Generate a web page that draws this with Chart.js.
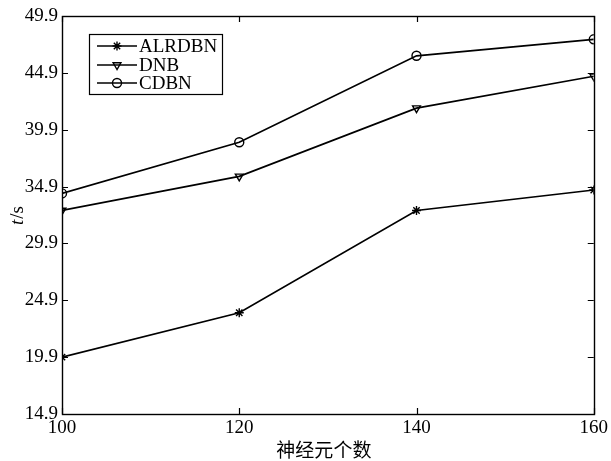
<!DOCTYPE html>
<html>
<head>
<meta charset="utf-8">
<script src="https://cdn.jsdelivr.net/npm/chart.js@4/dist/chart.umd.min.js"></script>
<style>
  html, body { margin: 0; padding: 0; background: #fff; }
  #wrap { width: 611px; height: 461px; position: relative; }
</style>
</head>
<body>
<div id="wrap"><canvas id="c" width="611" height="461"></canvas></div>
<script>
// Neuron counts on the x axis
const neurons = [100, 120, 140, 160];
// Training time (s) per method
const alrdbn = [19.9, 23.8, 32.8, 34.6];
const dnb    = [32.8, 35.8, 41.8, 44.6];
const cdbn   = [34.3, 38.8, 46.4, 47.85];
// Axis tick labels
const xTicks = [100, 120, 140, 160];
const yTicks = [14.9, 19.9, 24.9, 29.9, 34.9, 39.9, 44.9, 49.9];

const seriesNames = ['ALRDBN', 'DNB', 'CDBN'];
const xTitle = '神经元个数';

const SERIF = '"Liberation Serif", "Times New Roman", serif';
const LINE_W = 1.7;

function toPoints(vals) {
  return neurons.map((x, i) => ({ x: x, y: vals[i] }));
}

function ds(label, vals, style, rot) {
  return {
    label: label,
    data: toPoints(vals),
    borderColor: '#000',
    borderWidth: LINE_W,
    pointStyle: style,
    pointRotation: rot,
    pointRadius: 4.5,
    pointBorderWidth: 1.4,
    pointBorderColor: '#000',
    pointBackgroundColor: 'rgba(0,0,0,0)',
    tension: 0,
    fill: false
  };
}

// Box frame, inward ticks on all sides, axis titles and legend
const framePlugin = {
  id: 'frame',
  afterDraw(chart) {
    const ctx = chart.ctx;
    const a = chart.chartArea;
    const xs = chart.scales.x, ys = chart.scales.y;
    const tl = 6;
    ctx.save();
    ctx.strokeStyle = '#000';
    ctx.lineWidth = 1.4;
    ctx.strokeRect(Math.round(a.left) + 0.5, Math.round(a.top) + 0.5,
                   Math.round(a.right - a.left), Math.round(a.bottom - a.top));
    ctx.lineWidth = 1.2;
    ctx.beginPath();
    xTicks.forEach(v => {
      const px = Math.round(xs.getPixelForValue(v)) + 0.5;
      ctx.moveTo(px, a.bottom); ctx.lineTo(px, a.bottom - tl);
      ctx.moveTo(px, a.top); ctx.lineTo(px, a.top + tl);
    });
    yTicks.forEach(v => {
      const py = Math.round(ys.getPixelForValue(v)) + 0.5;
      ctx.moveTo(a.left, py); ctx.lineTo(a.left + tl, py);
      ctx.moveTo(a.right, py); ctx.lineTo(a.right - tl, py);
    });
    ctx.stroke();

    // x axis title
    ctx.fillStyle = '#000';
    ctx.font = '19px "Noto Sans CJK SC", sans-serif';
    ctx.textAlign = 'center';
    ctx.textBaseline = 'middle';
    ctx.fillText(xTitle, (a.left + a.right) / 2 - 4, a.bottom + 36);

    // y axis title: italic t, upright /s
    ctx.save();
    ctx.translate(18, (a.top + a.bottom) / 2 + 1);
    ctx.rotate(-Math.PI / 2);
    ctx.textAlign = 'left';
    ctx.textBaseline = 'middle';
    const fItal = 'italic 19px ' + SERIF, fNorm = '19px ' + SERIF;
    ctx.font = fItal; const w1 = ctx.measureText('t').width;
    ctx.font = fNorm; const w2 = ctx.measureText('/s').width;
    const x0 = -(w1 + w2) / 2;
    ctx.font = fItal; ctx.fillText('t', x0, 0);
    ctx.font = fNorm; ctx.fillText('/s', x0 + w1 + 1, 0);
    ctx.restore();

    // legend
    const bx = 89.5, by = 34.5, bw = 133, bh = 60;
    ctx.fillStyle = '#fff';
    ctx.fillRect(bx, by, bw, bh);
    ctx.lineWidth = 1.2;
    ctx.strokeRect(bx, by, bw, bh);
    const rows = [46, 65, 83];
    chart.data.datasets.forEach((d, i) => {
      const y = rows[i];
      ctx.strokeStyle = '#000';
      ctx.lineWidth = LINE_W;
      ctx.beginPath();
      ctx.moveTo(97, y); ctx.lineTo(137, y);
      ctx.stroke();
      ctx.lineWidth = 1.4;
      ctx.fillStyle = 'rgba(0,0,0,0)';
      Chart.helpers.drawPoint(ctx, {
        pointStyle: d.pointStyle, rotation: d.pointRotation,
        radius: 4.5, borderWidth: 1.4
      }, 117, y);
      ctx.fillStyle = '#000';
      ctx.font = '19px ' + SERIF;
      ctx.textAlign = 'left';
      ctx.textBaseline = 'middle';
      ctx.fillText(d.label, 139, y + 1);
    });
    ctx.restore();
  }
};

new Chart(document.getElementById('c'), {
  type: 'line',
  data: {
    datasets: [
      ds(seriesNames[0], alrdbn, 'star', 0),
      ds(seriesNames[1], dnb, 'triangle', 180),
      ds(seriesNames[2], cdbn, 'circle', 0)
    ]
  },
  options: {
    responsive: false,
    animation: false,
    devicePixelRatio: 1,
    layout: { padding: { left: 0, top: 16, right: 15, bottom: 0 } },
    plugins: { legend: { display: false }, tooltip: { enabled: false } },
    scales: {
      x: {
        type: 'linear', min: 100, max: 160,
        afterBuildTicks: s => { s.ticks = xTicks.map(v => ({ value: v })); },
        afterFit: s => { s.height = 47; },
        grid: { display: false, drawTicks: false },
        border: { display: false },
        ticks: { color: '#000', padding: 3, maxRotation: 0, autoSkip: false,
                 font: { family: SERIF, size: 19 } }
      },
      y: {
        type: 'linear', min: 14.9, max: 49.9,
        afterBuildTicks: s => { s.ticks = yTicks.map(v => ({ value: v })); },
        afterFit: s => { s.width = 62; },
        grid: { display: false, drawTicks: false },
        border: { display: false },
        ticks: { color: '#000', padding: 4, autoSkip: false,
                 callback: v => v.toFixed(1),
                 font: { family: SERIF, size: 19 } }
      }
    }
  },
  plugins: [framePlugin]
});
</script>
</body>
</html>
